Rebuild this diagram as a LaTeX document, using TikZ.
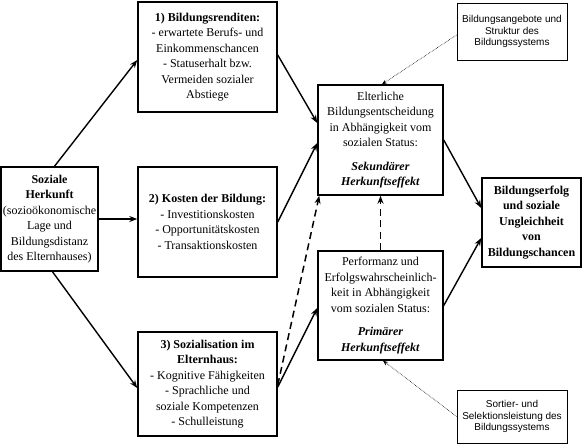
\documentclass[tikz,border=0pt]{standalone}
\usepackage{fontspec}
\setmainfont{Liberation Serif}
\newfontfamily\arialfont{Liberation Sans}
\usetikzlibrary{arrows.meta}
\begin{document}
\begin{tikzpicture}[x=1pt,y=-1pt,
  mainbox/.style={draw,line width=1.5pt,inner sep=0pt,align=center,
    font=\fontsize{12}{15.5}\selectfont},
  sidebox/.style={draw,line width=0.9pt,inner sep=0pt,align=center,
    font=\arialfont\fontsize{10}{11.8}\selectfont},
  mainarrow/.style={line width=1.4pt,-{Stealth[length=8pt,width=6pt]}},
  dasharrow/.style={line width=1.5pt,dash pattern=on 7pt off 4.5pt,-{Stealth[length=8pt,width=6pt]}},
  thinarrow/.style={line width=0.6pt,densely dotted,-{Stealth[length=5pt,width=4pt]}}]
\useasboundingbox (0,0) rectangle (583,445);
\node[mainbox,minimum width=97pt,minimum height=104pt] (herk) at (49.5,219)
  {\textbf{Soziale}\\\textbf{Herkunft}\\(sozioökonomische\\Lage und\\Bildungsdistanz\\des Elternhauses)};
\node[mainbox,minimum width=139pt,minimum height=110pt] (b1) at (207.5,57)
  {\textbf{1) Bildungsrenditen:}\\- erwartete Berufs- und\\Einkommenschancen\\- Statuserhalt bzw.\\Vermeiden sozialer\\Abstiege};
\node[mainbox,minimum width=139pt,minimum height=110pt] (b2) at (207.5,222)
  {\textbf{2) Kosten der Bildung:}\\- Investitionskosten\\- Opportunitätskosten\\- Transaktionskosten};
\node[mainbox,minimum width=139pt,minimum height=104pt] (b3) at (207.5,384)
  {\textbf{3) Sozialisation im}\\\textbf{Elternhaus:}\\- Kognitive Fähigkeiten\\- Sprachliche und\\soziale Kompetenzen\\- Schulleistung};
\node[mainbox,minimum width=125pt,minimum height=110pt] (sek) at (380.5,140)
  {Elterliche\\Bildungsentscheidung\\in Abhängigkeit vom\\sozialen Status:\\[8pt]\textbf{\textit{Sekundärer}}\\\textbf{\textit{Herkunftseffekt}}};
\node[mainbox,minimum width=125pt,minimum height=109pt] (prim) at (380.5,305.5)
  {Performanz und\\Erfolgswahrscheinlich-\\keit in Abhängigkeit\\vom sozialen Status:\\[8pt]\textbf{\textit{Primärer}}\\\textbf{\textit{Herkunftseffekt}}};
\node[mainbox,minimum width=99pt,minimum height=89pt] (erf) at (531.5,222.5)
  {\textbf{Bildungserfolg}\\\textbf{und soziale}\\\textbf{Ungleichheit}\\\textbf{von}\\\textbf{Bildungschancen}};
\node[sidebox,minimum width=110pt,minimum height=57pt] (ang) at (512,31.5)
  {Bildungsangebote und\\Struktur des\\Bildungssystems};
\node[sidebox,minimum width=110pt,minimum height=53pt] (sort) at (512,416.5)
  {Sortier- und\\Selektionsleistung des\\Bildungssystems};
\draw[mainarrow] ([xshift=5pt]herk.north) -- ([yshift=-3pt]b1.west);
\draw[mainarrow] (herk.east) -- (herk.east -| b2.west);
\draw[mainarrow] ([xshift=3pt]herk.south) -- ([yshift=-4pt]b3.west);
\draw[mainarrow] ([yshift=2pt]b1.east) -- ([yshift=17pt]sek.west);
\draw[mainarrow] (b2.east) -- ([yshift=-3pt]sek.west);
\draw[mainarrow] ([yshift=-3pt]b3.east) -- ([yshift=-2.5pt]prim.west);
\draw[dasharrow] ([yshift=-1pt]b3.east) -- ([xshift=2pt]sek.south west);
\draw[dasharrow] (prim.north) -- (sek.south);
\draw[mainarrow] (sek.east) -- ([yshift=14.5pt]erf.west);
\draw[mainarrow] (prim.east) -- ([yshift=-15.5pt]erf.west);
\draw[thinarrow] ([yshift=-3.5pt]ang.west) -- ([xshift=1.5pt]sek.north);
\draw[thinarrow] (sort.west) -- ([xshift=2.5pt]prim.south);
\end{tikzpicture}
\end{document}
